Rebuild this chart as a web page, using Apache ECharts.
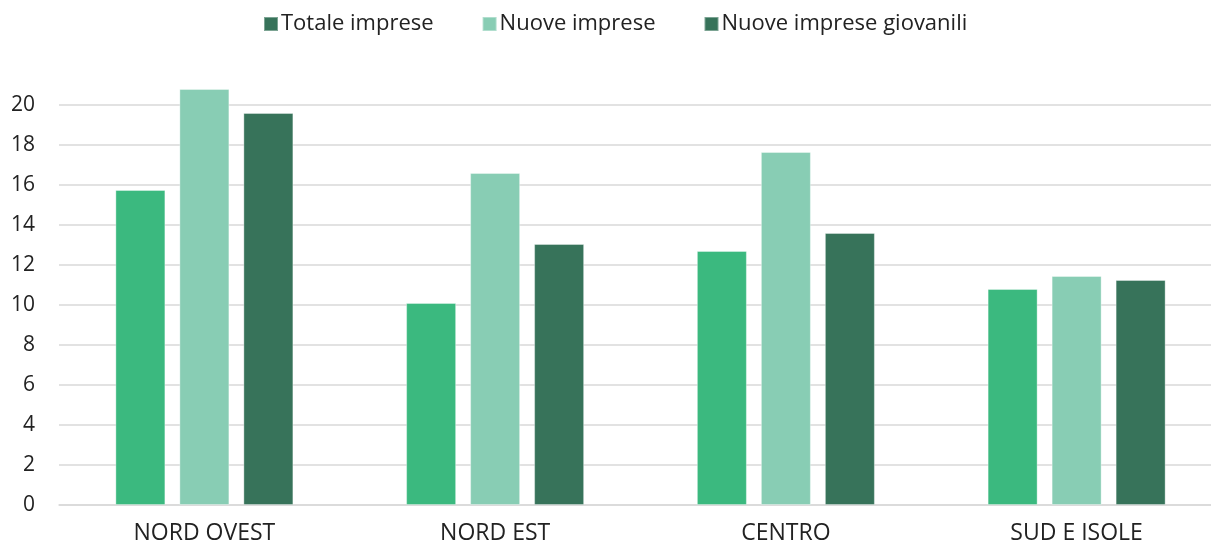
<!DOCTYPE html>
<html>
<head>
<meta charset="utf-8">
<script src="https://cdn.jsdelivr.net/npm/echarts@6/dist/echarts.min.js"></script>
<style>html,body{margin:0;padding:0;background:#fff}#c{width:1211px;height:545px}</style>
</head>
<body>
<div id="c"></div>
<script>
const categories = ['NORD OVEST', 'NORD EST', 'CENTRO', 'SUD E ISOLE'];
const seriesNames = ['Totale imprese', 'Nuove imprese', 'Nuove imprese giovanili'];
const totaleImprese = [15.75, 10.1, 12.7, 10.8];
const nuoveImprese = [20.8, 16.6, 17.65, 11.45];
const nuoveImpreseGiovanili = [19.6, 13.05, 13.6, 11.25];
const yTicks = [0, 2, 4, 6, 8, 10, 12, 14, 16, 18, 20];

const colors = ['#3BB97F', '#88CDB4', '#37735A'];
const font = '"Open Sans", sans-serif';
const chart = echarts.init(document.getElementById('c'));
const values = [totaleImprese, nuoveImprese, nuoveImpreseGiovanili];
chart.setOption({
  animation: false,
  legend: {
    top: 8,
    left: 258,
    itemWidth: 14,
    itemHeight: 14,
    itemGap: 48,
    icon: 'rect',
    textStyle: { fontFamily: font, fontSize: 22, color: '#222', padding: [0, 0, 0, -2] },
    data: [
      { name: seriesNames[0], itemStyle: { color: colors[2] } },
      { name: seriesNames[1] },
      { name: seriesNames[2] }
    ]
  },
  grid: { left: 59, width: 1163, top: 105, bottom: 40, containLabel: false, outerBoundsMode: 'none' },
  xAxis: {
    type: 'category',
    data: categories,
    axisLine: { show: true, lineStyle: { color: '#d9d9d9', width: 1.5 } },
    axisTick: { show: false },
    axisLabel: { fontFamily: font, fontSize: 23, color: '#222', margin: 17 }
  },
  yAxis: {
    type: 'value',
    min: yTicks[0],
    max: yTicks[yTicks.length - 1],
    interval: 2,
    axisLine: { show: false },
    axisTick: { show: false },
    axisLabel: { fontFamily: font, fontSize: 21, color: '#222', margin: 24 },
    splitLine: { lineStyle: { color: '#d9d9d9', width: 1.5 } }
  },
  series: seriesNames.map((n, i) => ({
    name: n,
    type: 'bar',
    data: values[i],
    barWidth: 50,
    barGap: '28%',
    clip: false,
    itemStyle: { color: colors[i], borderColor: 'rgba(255,255,255,0.35)', borderWidth: 1 }
  }))
});
</script>
</body>
</html>
